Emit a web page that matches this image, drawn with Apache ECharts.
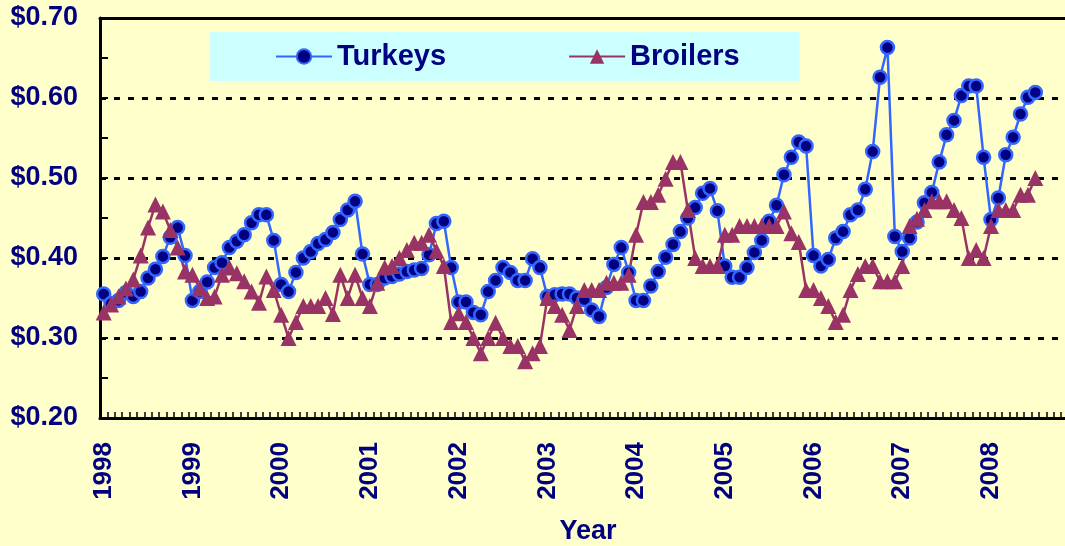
<!DOCTYPE html>
<html>
<head>
<meta charset="utf-8">
<script src="https://cdn.jsdelivr.net/npm/echarts@6/dist/echarts.min.js"></script>
<style>
  html, body { margin: 0; padding: 0; background: #FFFFCC; }
  #linechart { width: 1065px; height: 546px; }
</style>
</head>
<body>
<div id="linechart"></div>
<script>
// monthly prices, Jan 1998 - Jul 2008
var years = ['1998','1999','2000','2001','2002','2003','2004','2005','2006','2007','2008'];
var months = ['01','02','03','04','05','06','07','08','09','10','11','12'];
var yTicks = [0.20, 0.30, 0.40, 0.50, 0.60, 0.70];

var turkeys = [
    0.355, 0.343, 0.347, 0.357, 0.352, 0.358, 0.375, 0.386, 0.402, 0.426, 0.438, 0.403, // 1998
    0.347, 0.358, 0.370, 0.388, 0.394, 0.413, 0.421, 0.429, 0.444, 0.454, 0.454, 0.422, // 1999
    0.367, 0.358, 0.382, 0.400, 0.408, 0.418, 0.423, 0.432, 0.448, 0.460, 0.471, 0.405, // 2000
    0.367, 0.367, 0.375, 0.377, 0.380, 0.383, 0.385, 0.387, 0.404, 0.443, 0.446, 0.388, // 2001
    0.345, 0.345, 0.332, 0.329, 0.358, 0.372, 0.388, 0.382, 0.372, 0.372, 0.399, 0.388, // 2002
    0.352, 0.354, 0.355, 0.355, 0.350, 0.348, 0.335, 0.327, 0.363, 0.392, 0.413, 0.382, // 2003
    0.347, 0.347, 0.365, 0.383, 0.401, 0.417, 0.433, 0.450, 0.463, 0.481, 0.487, 0.459, // 2004
    0.390, 0.376, 0.376, 0.388, 0.407, 0.422, 0.446, 0.466, 0.504, 0.526, 0.545, 0.540, // 2005
    0.403, 0.390, 0.398, 0.425, 0.433, 0.454, 0.460, 0.486, 0.533, 0.626, 0.663, 0.427, // 2006
    0.408, 0.425, 0.445, 0.469, 0.482, 0.520, 0.554, 0.572, 0.603, 0.615, 0.615, 0.526, // 2007
    0.448, 0.475, 0.529, 0.551, 0.580, 0.601, 0.607                                      // 2008
];
var broilers = [
    0.332, 0.342, 0.352, 0.362, 0.373, 0.403, 0.438, 0.467, 0.458, 0.435, 0.413, 0.383, // 1998
    0.379, 0.362, 0.350, 0.352, 0.379, 0.388, 0.381, 0.371, 0.358, 0.344, 0.377, 0.360, // 1999
    0.329, 0.300, 0.320, 0.340, 0.340, 0.340, 0.350, 0.330, 0.379, 0.350, 0.379, 0.350, // 2000
    0.340, 0.369, 0.388, 0.390, 0.400, 0.410, 0.419, 0.419, 0.429, 0.409, 0.390, 0.320, // 2001
    0.331, 0.320, 0.300, 0.281, 0.300, 0.319, 0.300, 0.290, 0.290, 0.271, 0.281, 0.290, // 2002
    0.350, 0.340, 0.329, 0.310, 0.340, 0.360, 0.360, 0.360, 0.369, 0.369, 0.369, 0.379, // 2003
    0.429, 0.470, 0.470, 0.479, 0.499, 0.520, 0.520, 0.460, 0.400, 0.390, 0.390, 0.390, // 2004
    0.429, 0.429, 0.440, 0.440, 0.440, 0.440, 0.440, 0.440, 0.458, 0.431, 0.420, 0.360, // 2005
    0.360, 0.350, 0.340, 0.320, 0.329, 0.360, 0.380, 0.390, 0.390, 0.371, 0.371, 0.371, // 2006
    0.390, 0.440, 0.449, 0.460, 0.471, 0.471, 0.471, 0.460, 0.450, 0.400, 0.410, 0.400, // 2007
    0.440, 0.460, 0.460, 0.460, 0.479, 0.479, 0.500                                      // 2008
];

var categories = [];
years.forEach(function (y) {
    months.forEach(function (m) { categories.push(y + '-' + m); });
});

var navy = '#000080';
var font = "'Liberation Sans', Arial, sans-serif";

var myChart = echarts.init(document.getElementById('linechart'));
option = {
    backgroundColor: '#FFFFCC',
    animation: false,
    textStyle: { fontFamily: font },
    legend: {
        left: 210,
        top: 32,
        padding: [10, 60, 10, 65],
        itemGap: 122,
        itemWidth: 56,
        itemHeight: 18,
        backgroundColor: '#CCFFFF',
        textStyle: { color: navy, fontSize: 29, fontWeight: 'bold', fontFamily: font },
        data: ['Turkeys', 'Broilers']
    },
    grid: { left: 100, top: 18, right: -11, bottom: 128, outerBoundsMode: 'none' },
    xAxis: [
        {
            type: 'category',
            data: categories,
            boundaryGap: true,
            name: 'Year',
            nameLocation: 'middle',
            nameGap: 100,
            nameTextStyle: { color: navy, fontSize: 27, fontWeight: 'bold', fontFamily: font },
            axisLine: { lineStyle: { color: '#000', width: 3 } },
            axisTick: { show: true, inside: true, length: 6, interval: 0, lineStyle: { color: '#000', width: 1.5 } },
            axisLabel: {
                interval: function (idx) { return idx % 12 === 0; },
                rotate: 90,
                margin: 24,
                color: navy,
                fontSize: 26,
                fontWeight: 'bold',
                fontFamily: font,
                formatter: function (v) { return v.slice(0, 4); }
            },
            splitLine: { show: false }
        },
        {
            type: 'category',
            data: categories,
            position: 'top',
            boundaryGap: true,
            axisLine: { show: true, lineStyle: { color: '#000', width: 3 } },
            axisTick: { show: false },
            axisLabel: { show: false }
        }
    ],
    yAxis: {
        type: 'value',
        min: yTicks[0],
        max: yTicks[yTicks.length - 1],
        interval: 0.1,
        axisLine: { show: true, lineStyle: { color: '#000', width: 3 } },
        axisTick: { show: true, inside: true, length: 8, lineStyle: { color: '#000', width: 2 } },
        minorTick: { show: true, splitNumber: 2, length: 8, lineStyle: { color: '#000', width: 2 } },
        axisLabel: {
            margin: 22,
            color: navy,
            fontSize: 27,
            fontWeight: 'bold',
            fontFamily: font,
            formatter: function (v) { return '$' + v.toFixed(2); }
        },
        splitLine: { show: true, lineStyle: { color: '#000', width: 3, type: [6, 8] } }
    },
    series: [
        {
            name: 'Turkeys',
            type: 'line',
            data: turkeys,
            symbol: 'circle',
            symbolSize: 13,
            showAllSymbol: true,
            lineStyle: { color: '#3366FF', width: 2.5 },
            itemStyle: { color: navy, borderColor: '#3366FF', borderWidth: 2.5 }
        },
        {
            name: 'Broilers',
            type: 'line',
            data: broilers,
            symbol: 'triangle',
            symbolSize: 16,
            showAllSymbol: true,
            lineStyle: { color: '#993366', width: 2.5 },
            itemStyle: { color: '#993366' }
        }
    ]
};
myChart.setOption(option);
</script>
</body>
</html>
